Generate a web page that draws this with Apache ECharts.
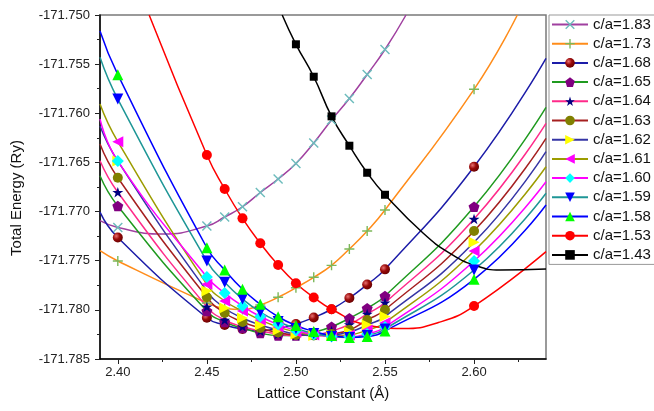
<!DOCTYPE html>
<html>
<head>
<meta charset="utf-8">
<script src="https://cdn.jsdelivr.net/npm/echarts@6/dist/echarts.min.js"></script>
<style>
  html, body { margin: 0; padding: 0; background: #fff; }
  #chart { width: 654px; height: 411px; }
</style>
</head>
<body>
<div id="chart"></div>
<script>
// Lattice constants (Å) at which total energies were computed
const latticeA = [2.40, 2.45, 2.46, 2.47, 2.48, 2.49, 2.50, 2.51, 2.52, 2.53, 2.54, 2.55, 2.60];

// Total energies (Ry) for each c/a ratio, aligned with latticeA (null = not computed)
const ca183 = [-171.77162, -171.77147, -171.77055, -171.76951, -171.76806, -171.76669, -171.76511, -171.76302, -171.76068, -171.75850, -171.75605, -171.75351, null];
const ca173 = [-171.77503, -171.77930, -171.77986, -171.77997, -171.77951, -171.77872, -171.77775, -171.77669, -171.77547, -171.77381, -171.77198, -171.76984, -171.75756];
const ca168 = [-171.77264, -171.78080, -171.78154, -171.78195, -171.78210, -171.78190, -171.78144, -171.78078, -171.77994, -171.77880, -171.77742, -171.77588, -171.76544];
const ca165 = [-171.76943, -171.78012, -171.78124, -171.78185, -171.78236, -171.78261, -171.78261, -171.78229, -171.78172, -171.78086, -171.77984, -171.77859, -171.76951];
const ca164 = [-171.76803, -171.77968, -171.78103, -171.78170, -171.78215, -171.78246, -171.78261, -171.78256, -171.78215, -171.78149, -171.78042, -171.77927, -171.77076];
const ca163 = [-171.76656, -171.77872, -171.78032, -171.78124, -171.78185, -171.78231, -171.78256, -171.78261, -171.78246, -171.78205, -171.78103, -171.77999, -171.77198];
const ca162 = [-171.76486, -171.77808, -171.77981, -171.78083, -171.78154, -171.78205, -171.78246, -171.78261, -171.78256, -171.78226, -171.78154, -171.78068, -171.77313];
const ca161 = [-171.76289, -171.77740, -171.77910, -171.78012, -171.78103, -171.78175, -171.78226, -171.78256, -171.78266, -171.78256, -171.78205, -171.78131, -171.77401];
const ca160 = [-171.76486, -171.77666, -171.77829, -171.77961, -171.78068, -171.78149, -171.78210, -171.78251, -171.78271, -171.78271, -171.78246, -171.78175, -171.77503];
const ca159 = [-171.75855, -171.77503, -171.77720, -171.77890, -171.78022, -171.78119, -171.78190, -171.78241, -171.78271, -171.78281, -171.78261, -171.78195, -171.77595];
const ca158 = [-171.75607, -171.77368, -171.77595, -171.77791, -171.77944, -171.78070, -171.78159, -171.78220, -171.78261, -171.78281, -171.78271, -171.78215, -171.77689];
const ca153 = [null, -171.76425, -171.76770, -171.77069, -171.77323, -171.77544, -171.77730, -171.77874, -171.77994, null, null, null, -171.77961];
const ca143 = [null, null, null, null, null, null, -171.75298, -171.75628, -171.76031, -171.76330, -171.76605, -171.76829, null];

// Fitted E(a) curve points outside / between the computed points [a, E]
const fit183 = [[2.39, -171.77093], [2.425, -171.77228], [2.5618, -171.75000]];
const fit173 = [[2.39, -171.77398], [2.6243, -171.75000]];
const fit168 = [[2.39, -171.77005], [2.6404, -171.75441]];
const fit165 = [[2.39, -171.76635], [2.6404, -171.75939]];
const fit164 = [[2.39, -171.76483], [2.6404, -171.76102]];
const fit163 = [[2.39, -171.76313], [2.6404, -171.76255]];
const fit162 = [[2.39, -171.76129], [2.6404, -171.76391]];
const fit161 = [[2.39, -171.75906], [2.6404, -171.76544]];
const fit160 = [[2.39, -171.76058], [2.6404, -171.76696]];
const fit159 = [[2.39, -171.75430], [2.6404, -171.76814]];
const fit158 = [[2.39, -171.75163], [2.6404, -171.76933]];
const fit153 = [[2.4176, -171.75000], [2.54, -171.78154], [2.56, -171.78190], [2.58, -171.78129], [2.6404, -171.77408]];
const fit143 = [[2.4923, -171.75000], [2.5715, -171.77221], [2.5865, -171.77425], [2.60, -171.77544], [2.6146, -171.77595], [2.6404, -171.77584]];

const seriesNames = ['c/a=1.83', 'c/a=1.73', 'c/a=1.68', 'c/a=1.65', 'c/a=1.64', 'c/a=1.63', 'c/a=1.62',
                     'c/a=1.61', 'c/a=1.60', 'c/a=1.59', 'c/a=1.58', 'c/a=1.53', 'c/a=1.43'];
const energySets = [ca183, ca173, ca168, ca165, ca164, ca163, ca162, ca161, ca160, ca159, ca158, ca153, ca143];
const fitSets = [fit183, fit173, fit168, fit165, fit164, fit163, fit162, fit161, fit160, fit159, fit158, fit153, fit143];

// Axis ticks
const xLabelTicks = [2.40, 2.45, 2.50, 2.55, 2.60];
const xMinorTicks = [2.425, 2.475, 2.525, 2.575, 2.625];

// Marker shapes
const SYM_X = 'path://M0,1L1,0L5,4L9,0L10,1L6,5L10,9L9,10L5,6L1,10L0,9L4,5Z';
const SYM_PLUS = 'path://M4.3,0H5.7V4.3H10V5.7H5.7V10H4.3V5.7H0V4.3H4.3Z';
const SYM_STAR = 'path://M50,0L61.8,35.3L98.9,35.3L68.9,57.1L80.3,92.4L50,70.6L19.7,92.4L31.1,57.1L1.1,35.3L38.2,35.3Z';
const SYM_PENT = 'path://M50,0L100,36.3L80.9,95.1L19.1,95.1L0,36.3Z';
const BALL = {
  type: 'radial', x: 0.35, y: 0.35, r: 0.75,
  colorStops: [{ offset: 0, color: '#e87070' }, { offset: 0.45, color: '#9a0a0a' }, { offset: 1, color: '#600000' }]
};

const styles = [
  { line: '#a040a0', mark: '#6cbcbc', sym: SYM_X, size: 10 },
  { line: '#ff8c1a', mark: '#7cb85a', sym: SYM_PLUS, size: 10 },
  { line: '#1c1ca8', mark: BALL, sym: 'circle', size: 10 },
  { line: '#1f9a1f', mark: '#800080', sym: SYM_PENT, size: 11 },
  { line: '#ff2a8a', mark: '#000080', sym: SYM_STAR, size: 11 },
  { line: '#a52020', mark: '#808000', sym: 'circle', size: 10 },
  { line: '#3535a5', mark: '#ffff00', sym: 'triangle', rot: -90, size: 11 },
  { line: '#9c9c00', mark: '#ff00ff', sym: 'triangle', rot: 90, size: 11 },
  { line: '#ff00ff', mark: '#00ffff', sym: 'diamond', size: 12 },
  { line: '#1e9696', mark: '#0000ff', sym: 'triangle', rot: 180, size: 11 },
  { line: '#0000ff', mark: '#00ff00', sym: 'triangle', size: 11 },
  { line: '#ff0000', mark: '#ff0000', sym: 'circle', size: 10 },
  { line: '#000000', mark: '#000000', sym: 'rect', size: 8 }
];

function buildData(values, fitPts) {
  const pts = [];
  latticeA.forEach((a, i) => {
    if (values[i] != null) pts.push({ value: [a, values[i]] });
  });
  fitPts.forEach(p => pts.push({ value: p, symbol: 'none' }));
  pts.sort((p, q) => p.value[0] - q.value[0]);
  return pts;
}

const FONT = 'Liberation Sans, Arial, sans-serif';

const series = seriesNames.map((name, i) => ({
  name,
  type: 'line',
  xAxisIndex: 0,
  data: buildData(energySets[i], fitSets[i]),
  smooth: 0.5,
  symbol: styles[i].sym,
  symbolSize: styles[i].size,
  symbolRotate: styles[i].rot || 0,
  symbolKeepAspect: true,
  showAllSymbol: true,
  lineStyle: { color: styles[i].line, width: 1.5 },
  itemStyle: { color: styles[i].mark, borderWidth: 0 },
  emphasis: { disabled: true },
  clip: true
}));

const chart = echarts.init(document.getElementById('chart'));
chart.setOption({
  animation: false,
  backgroundColor: '#ffffff',
  grid: {
    left: 100, right: 108, top: 15, bottom: 52,
    show: true, borderColor: '#7a7a7a', borderWidth: 1.5, backgroundColor: 'transparent'
  },
  legend: {
    orient: 'vertical',
    left: 549, top: 15,
    padding: [2, 6, 2, 2],
    itemWidth: 36, itemHeight: 12, itemGap: 4.2,
    borderColor: '#999', borderWidth: 1,
    textStyle: { fontFamily: FONT, fontSize: 15, color: '#111', lineHeight: 15 },
    data: seriesNames
  },
  xAxis: [{
    type: 'value', min: 2.39, max: 2.6404,
    name: 'Lattice Constant (Å)', nameLocation: 'middle', nameGap: 27,
    nameTextStyle: { fontFamily: FONT, fontSize: 15, color: '#111' },
    axisLine: { show: true, lineStyle: { color: '#000', width: 1.5 } },
    axisTick: { show: true, length: 5, customValues: xLabelTicks, lineStyle: { color: '#222' } },
    axisLabel: { customValues: xLabelTicks, formatter: v => v.toFixed(2), margin: 7,
                 fontFamily: FONT, fontSize: 13, color: '#222' },
    splitLine: { show: false }
  }, {
    type: 'value', min: 2.39, max: 2.6404, position: 'bottom',
    axisLine: { show: false },
    axisTick: { show: true, length: 3, customValues: xMinorTicks, lineStyle: { color: '#222' } },
    axisLabel: { show: false },
    splitLine: { show: false }
  }],
  yAxis: {
    type: 'value', min: -171.785, max: -171.750, interval: 0.005,
    name: 'Total Energy (Ry)', nameLocation: 'middle', nameGap: 76, nameRotate: 90,
    nameTextStyle: { fontFamily: FONT, fontSize: 15, color: '#111', padding: [0, 22, 0, 0] },
    axisLine: { show: true, lineStyle: { color: '#000', width: 1.5 } },
    axisTick: { show: true, length: 5, lineStyle: { color: '#222' } },
    minorTick: { show: true, splitNumber: 2, length: 3, lineStyle: { color: '#222' } },
    axisLabel: { formatter: v => v.toFixed(3), margin: 10, fontFamily: FONT, fontSize: 13, color: '#222' },
    splitLine: { show: false }
  },
  series
});
</script>
</body>
</html>
